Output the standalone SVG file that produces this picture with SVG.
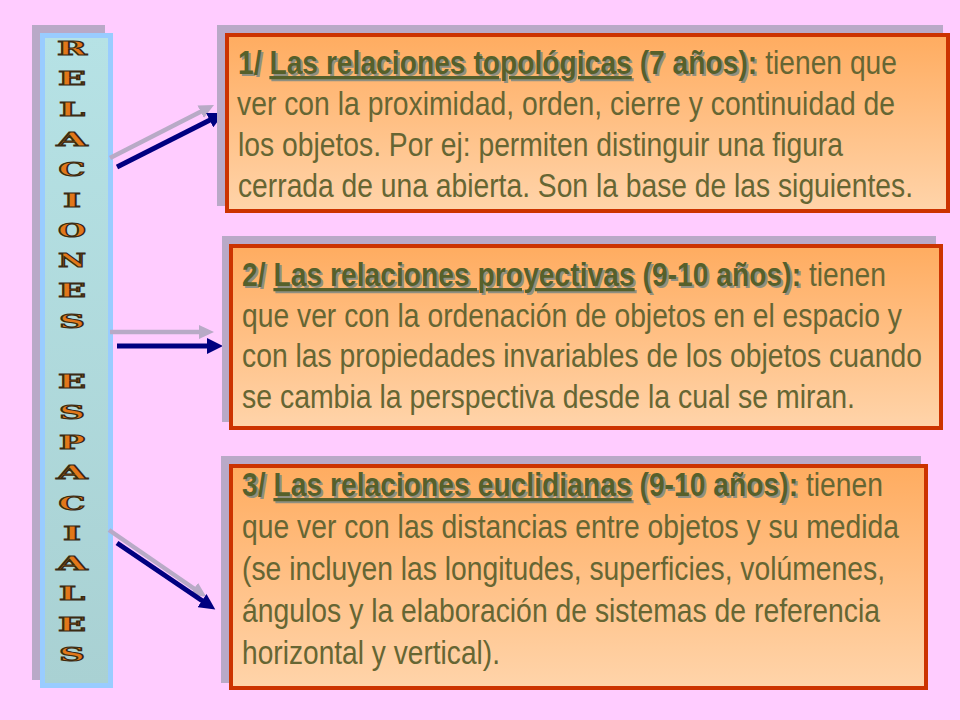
<svg xmlns="http://www.w3.org/2000/svg" width="960" height="720" viewBox="0 0 960 720">
<defs>
<linearGradient id="boxFill" x1="0" y1="0" x2="0" y2="1">
<stop offset="0" stop-color="#FFAC60"/>
<stop offset="1" stop-color="#FFD4AA"/>
</linearGradient>
<linearGradient id="barFill" x1="0" y1="0" x2="0" y2="1">
<stop offset="0" stop-color="#B6E2E5"/>
<stop offset="1" stop-color="#A9D1D3"/>
</linearGradient>
<marker id="headNavy" markerUnits="userSpaceOnUse" markerWidth="18" markerHeight="16" refX="6" refY="8" orient="auto">
<path d="M0,0 L16,8 L0,16 Z" fill="#000080"/>
</marker>
<marker id="headGray" markerUnits="userSpaceOnUse" markerWidth="18" markerHeight="16" refX="6" refY="7" orient="auto">
<path d="M0,0 L15,7 L0,14 Z" fill="#B8AAC6"/>
</marker>
</defs>
<style>
.shadow{fill:#B9A9C7}
.box{fill:url(#boxFill);stroke:#CC3300;stroke-width:4}
.bar{fill:url(#barFill);stroke:#99CCFF;stroke-width:5}
.txt{font-family:"Liberation Sans",Arial,sans-serif;font-size:32.5px;fill:#666633}
.b{font-weight:bold;fill:#56602B}
.u{text-decoration:underline}
.sh{fill:none}
.sh .b{fill:#8F8F80}
.ltr{font-family:"DejaVu Serif","Liberation Serif",serif;font-weight:bold;font-size:18px;fill:#E2771A;stroke:#3A2A12;stroke-width:1;text-anchor:middle}
.ag{stroke:#B8AAC6;stroke-width:4.5;fill:none;marker-end:url(#headGray)}
.an{stroke:#000080;stroke-width:5;fill:none;marker-end:url(#headNavy)}
</style>
<rect width="960" height="720" fill="#FFCCFF"/>

<g id="title-bar">
<rect class="shadow" x="32" y="25" width="73" height="655"/>
<rect class="bar" x="42.5" y="35.5" width="68" height="650"/>
<text class="ltr" x="72" y="55" textLength="30" lengthAdjust="spacingAndGlyphs">R</text>
<text class="ltr" x="72" y="85.3" textLength="28" lengthAdjust="spacingAndGlyphs">E</text>
<text class="ltr" x="72" y="115.6" textLength="26" lengthAdjust="spacingAndGlyphs">L</text>
<text class="ltr" x="72" y="145.9" textLength="31" lengthAdjust="spacingAndGlyphs">A</text>
<text class="ltr" x="72" y="176.2" textLength="27" lengthAdjust="spacingAndGlyphs">C</text>
<text class="ltr" x="72" y="206.5" textLength="18" lengthAdjust="spacingAndGlyphs">I</text>
<text class="ltr" x="72" y="236.8" textLength="28" lengthAdjust="spacingAndGlyphs">O</text>
<text class="ltr" x="72" y="267.1" textLength="28" lengthAdjust="spacingAndGlyphs">N</text>
<text class="ltr" x="72" y="297.4" textLength="28" lengthAdjust="spacingAndGlyphs">E</text>
<text class="ltr" x="72" y="327.7" textLength="26" lengthAdjust="spacingAndGlyphs">S</text>
<text class="ltr" x="72" y="388.3" textLength="28" lengthAdjust="spacingAndGlyphs">E</text>
<text class="ltr" x="72" y="418.6" textLength="26" lengthAdjust="spacingAndGlyphs">S</text>
<text class="ltr" x="72" y="448.9" textLength="26" lengthAdjust="spacingAndGlyphs">P</text>
<text class="ltr" x="72" y="479.2" textLength="31" lengthAdjust="spacingAndGlyphs">A</text>
<text class="ltr" x="72" y="509.5" textLength="27" lengthAdjust="spacingAndGlyphs">C</text>
<text class="ltr" x="72" y="539.8" textLength="18" lengthAdjust="spacingAndGlyphs">I</text>
<text class="ltr" x="72" y="570.1" textLength="31" lengthAdjust="spacingAndGlyphs">A</text>
<text class="ltr" x="72" y="600.4" textLength="26" lengthAdjust="spacingAndGlyphs">L</text>
<text class="ltr" x="72" y="630.7" textLength="28" lengthAdjust="spacingAndGlyphs">E</text>
<text class="ltr" x="72" y="661" textLength="26" lengthAdjust="spacingAndGlyphs">S</text>
</g>

<g id="connectors">
<line class="ag" x1="110" y1="158" x2="206" y2="109"/>
<line class="an" x1="117" y1="167" x2="215" y2="117.5"/>
<line class="ag" x1="110" y1="332" x2="205" y2="332"/>
<line class="an" x1="117" y1="346" x2="213" y2="346"/>
<line class="ag" x1="109" y1="530" x2="199" y2="592"/>
<line class="an" x1="117" y1="543" x2="207" y2="604"/>
</g>

<g id="box1">
<rect class="shadow" x="217" y="25" width="726" height="181"/>
<rect class="box" x="227" y="35" width="721" height="176"/>
<text class="txt sh" x="240" y="76" textLength="659" lengthAdjust="spacingAndGlyphs"><tspan class="b">1/ </tspan><tspan class="b u">Las relaciones topológicas</tspan><tspan class="b"> (7 años):</tspan> tienen que</text>
<text class="txt" x="238" y="74" textLength="659" lengthAdjust="spacingAndGlyphs"><tspan class="b">1/ </tspan><tspan class="b u">Las relaciones topológicas</tspan><tspan class="b"> (7 años):</tspan> tienen que</text>
<text class="txt" x="237" y="115" textLength="658" lengthAdjust="spacingAndGlyphs">ver con la proximidad, orden, cierre y continuidad de</text>
<text class="txt" x="238" y="156" textLength="605" lengthAdjust="spacingAndGlyphs">los objetos. Por ej: permiten distinguir una figura</text>
<text class="txt" x="238" y="197" textLength="675" lengthAdjust="spacingAndGlyphs">cerrada de una abierta. Son la base de las siguientes.</text>
</g>

<g id="box2">
<rect class="shadow" x="222" y="236" width="714" height="186"/>
<rect class="box" x="231" y="246" width="710" height="182"/>
<text class="txt sh" x="244" y="288" textLength="644" lengthAdjust="spacingAndGlyphs"><tspan class="b">2/ </tspan><tspan class="b u">Las relaciones proyectivas</tspan><tspan class="b"> (9-10 años):</tspan> tienen</text>
<text class="txt" x="242" y="286" textLength="644" lengthAdjust="spacingAndGlyphs"><tspan class="b">2/ </tspan><tspan class="b u">Las relaciones proyectivas</tspan><tspan class="b"> (9-10 años):</tspan> tienen</text>
<text class="txt" x="242" y="327" textLength="660" lengthAdjust="spacingAndGlyphs">que ver con la ordenación de objetos en el espacio y</text>
<text class="txt" x="242" y="367" textLength="680" lengthAdjust="spacingAndGlyphs">con las propiedades invariables de los objetos cuando</text>
<text class="txt" x="242" y="408" textLength="613" lengthAdjust="spacingAndGlyphs">se cambia la perspectiva desde la cual se miran.</text>
</g>

<g id="box3">
<rect class="shadow" x="221" y="456" width="700" height="227"/>
<rect class="box" x="231" y="466" width="695" height="222"/>
<text class="txt sh" x="244" y="498" textLength="641" lengthAdjust="spacingAndGlyphs"><tspan class="b">3/ </tspan><tspan class="b u">Las relaciones euclidianas</tspan><tspan class="b"> (9-10 años):</tspan> tienen</text>
<text class="txt" x="242" y="496" textLength="641" lengthAdjust="spacingAndGlyphs"><tspan class="b">3/ </tspan><tspan class="b u">Las relaciones euclidianas</tspan><tspan class="b"> (9-10 años):</tspan> tienen</text>
<text class="txt" x="242" y="538" textLength="657" lengthAdjust="spacingAndGlyphs">que ver con las distancias entre objetos y su medida</text>
<text class="txt" x="242" y="580" textLength="643" lengthAdjust="spacingAndGlyphs">(se incluyen las longitudes, superficies, volúmenes,</text>
<text class="txt" x="242" y="622" textLength="638" lengthAdjust="spacingAndGlyphs">ángulos y la elaboración de sistemas de referencia</text>
<text class="txt" x="242" y="664" textLength="258" lengthAdjust="spacingAndGlyphs">horizontal y vertical).</text>
</g>
</svg>
